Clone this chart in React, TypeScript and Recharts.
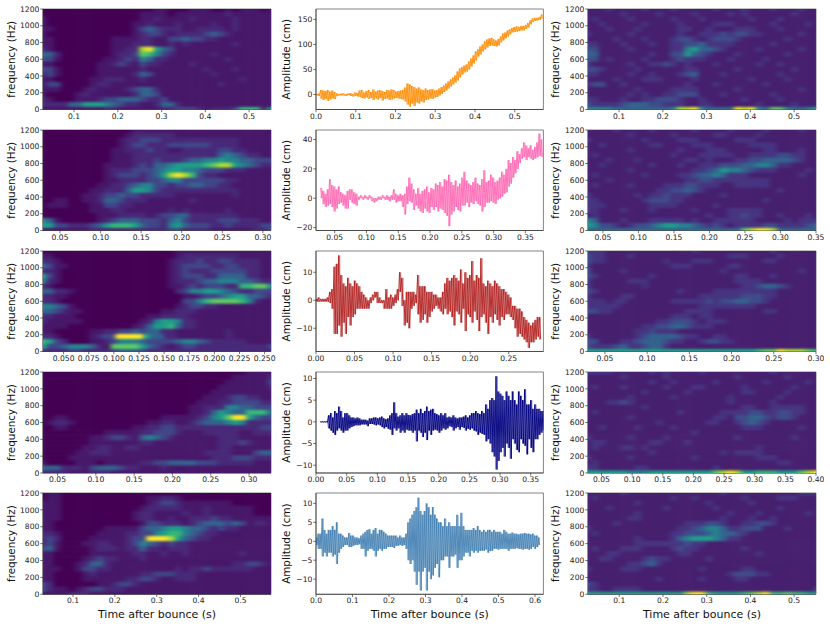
import React from 'react';
import { ScatterChart, Scatter, LineChart, Line, XAxis, YAxis, ReferenceArea } from 'recharts';

// viridis picked at uneven stops, low levels sit close together
const viridisLeft = ['#440154', '#47176a', '#482878', '#404688', '#33638d', '#26828e', '#1f9e89', '#35b779', '#5ec962', '#aadc32', '#fde725'];
const viridisRight = ['#450c5e', '#461f6f', '#463480', '#3f4c8a', '#33638d', '#26828e', '#1f9e89', '#35b779', '#5ec962', '#aadc32', '#fde725'];

const freqTicks = [0, 200, 400, 600, 800, 1000, 1200];

// spectrogram levels, top row is 1200 Hz, bottom row is 0 Hz, one digit per cell
const specLeft1 = [
  '000000000000000011000111001011101',
  '000000000000001111011111112111111',
  '100000000000001121111211111211111',
  '100000000000011211121111211211111',
  '110000000000013432221122221211111',
  '100000000000012332122223432111111',
  '110000000011112211334332211111111',
  '110000000011122211212111111211111',
  '210000000011229a64311111111111111',
  '442000000012238753211111211111111',
  '331000000112325422111111112111111',
  '110000001123213221111211111111111',
  '331000001111112111111112111211111',
  '231000001111124311111111211111111',
  '110000011222112111111111111121111',
  '133000012211111111111111121111111',
  '111000121111234421111111111111111',
  '100001211111124431111111111111111',
  '210001112334443223111111111111111',
  '222244666543221124421111111111111',
  '111111111221111112233321222377726',
];
const specLeft2 = [
  '000000000000011111111111111111111',
  '000000000000122222211111111111111',
  '000000000001223332222222222211111',
  '000000000001233222333333222211111',
  '000000000011222322112222233221111',
  '000000000011122222222222245432211',
  '000000000011122232223445565544333',
  '000000000111123244566667899654322',
  '000000000122233345665543332221111',
  '0000000001233323469a9732211111111',
  '000000000112222334553333332211111',
  '000000001122345533233443322111111',
  '000000011222466532222222222211111',
  '000000112334332222211111111211111',
  '001100112443222111111211111111111',
  '011100011332211111111111111111111',
  '000000011122111111212111112111111',
  '000000001112222123344222222211111',
  '541000001234443332453222233322211',
  '663322234677764332564333223222233',
  '111111122222222222332222111111223',
];
const specLeft3 = [
  '000000000000000000011111111111111',
  '110000000000000000012222222211111',
  '221000000000000000122232233222211',
  '431100000000000000123333223322211',
  '221000000000000000123222333332211',
  '631000000000000000123332244442211',
  '521000000000000000122234455544322',
  '210000000000000000112323332277885',
  '442210000000000000023556654322333',
  '221100000000000000001123345664432',
  '221000000000000000003357888875211',
  '554310000000000000012332211111111',
  '443211000000000001122211111111111',
  '221110000000000112222111111111111',
  '211111000000001256652211111111111',
  '111100000000012466742211111111111',
  '110000011223343442211111112111111',
  '22100001233aaaa6442211111112111111',
  '763200011235554333345543222221111',
  '633455542188886432123322222222223',
  '222233222234443222222222222222222',
];
const specLeft4 = [
  '000000000000000000000000000001111',
  '000000000000000000000000000111112',
  '000000000000000000000000001111113',
  '000000000000000000000000011111112',
  '000000000000000000000000111111111',
  '000000000000000000000001112332211',
  '000000000000000000000011122333322',
  '000000000000000000000112225544333',
  '000000000000000000000112465447774',
  '001100000000000001111123568aa6433',
  '012210000000000112211234445652222',
  '001100000000011223322222222222233',
  '000000000111112233321112222211222',
  '000000011233214543211111122211111',
  '000000011111112211111111122232111',
  '000000112211221111111111122111111',
  '000001122211111111111112222111344',
  '000011111111111111111111222333222',
  '100001110111112233444433322222111',
  '444222134443221112111111111111111',
  '222211122211111111111111111111111',
];
const specLeft5 = [
  '011000000000000000000000000000000',
  '011000000000000112210000000000000',
  '111000000000000123321111111000000',
  '111000000000001222221112111111000',
  '111000000000012211112112111111000',
  '111000000000012211211222322111111',
  '110000000000001332221234443431221',
  '110000000111113445665443232211111',
  '221000001111223356775432211111111',
  '232000011111233aaa964322111111111',
  '231000112211235432322111111111111',
  '341000012221224221222111111111111',
  '110000011111122112112111111121111',
  '110000123221112111111111111111111',
  '110001244211111111111111111223321',
  '111001332211111111121223222222111',
  '110000121111112233322211111111111',
  '110000111111223321122211111111111',
  '320000001123321111111111111111111',
  '321101233222111111111111111111111',
  '111122211111111111111111111111111',
];
const specRight1 = [
  '111211112111211111211121112111211',
  '111112111121111211112121111112111',
  '121111211111211121111112111211111',
  '112111112111121111222111112111121',
  '111211121111122112111222111211111',
  '211111211111121122232332211111211',
  '111121112111233212333211111121111',
  '221112111211223342222111112111111',
  '331111211111225644321111211111211',
  '441111111211336432111211111121111',
  '331211112111232221112111121111111',
  '211111211223212111211111211211111',
  '332111121111112211111211111112111',
  '221111211211123411121111111211111',
  '111121112221111211111112111121111',
  '233112111111112111211111121111111',
  '111111121111222211111211111111211',
  '111111212112233311121111112111111',
  '221112112233321121111121111211111',
  '322223444332221122111111211112111',
  '555544444444599a54444a9a5488544566'.slice(0, 33),
];
const specRight2 = [
  '111121111211111211112111121111211',
  '111111211111211111221111211111111',
  '211111112111122211111222111111111',
  '112111111221111222111112222111111',
  '111111211111121112221111122111211',
  '121111111111211122222112222332211',
  '111211121111112212111223344443211',
  '112111111211121122233344554221111',
  '111111211111111223465543222111121',
  '121111112111122344542221111111211',
  '111211111111112233222222221111111',
  '121111211112223322211222221111111',
  '111111111122334321111111111211111',
  '211111121223222111121111111111111',
  '221111112333221111111111121111111',
  '222111111222211111211111111111111',
  '221112111211111211112222211111111',
  '121111111111111112112232211211121',
  '541112111222221211222222111121222',
  '653321233456655432321222233222234',
  '444444444444444444444489aa9444444',
];
const specRight3 = [
  '222111111111111211111111112111111',
  '322111211111111111112221111211111',
  '322111111112111222111111122111111',
  '211111111111222111112211111111111',
  '311112111111111111121111111111211',
  '321111111211111111111221112111111',
  '211111222111111111111222211111111',
  '211111112111111111111122344321111',
  '321111111111121111222222222111111',
  '211112211111111122222233322111111',
  '222122111111222223233443321111111',
  '222221111111111122222222111111111',
  '332211111111112222111111122111111',
  '111111111111222122111111111111111',
  '111111111122333212221111111111111',
  '111111112233443222111111111111111',
  '111111122322211111111111111111111',
  '211111123444432211221111111111111',
  '331112234443221123322111111111111',
  '322234223442111111111111111111111',
  '666666666666666666666666788a99987',
];
const specRight4 = [
  '222211111212111121111111112111111',
  '111112111112111111111211111121111',
  '111111111211211111211111121111121',
  '121112111112111221111121111112111',
  '111111112111112111111122111121111',
  '111111211111211111112111111211111',
  '111223211111111111112111112111111',
  '111111112111111111111122112222211',
  '121111111111121111122223322332211',
  '111111211111111111221334432332111',
  '111111111121111112211234321111111',
  '112111121111211111111122211111211',
  '111111111111111211111111111111111',
  '211111211112111111111211111112111',
  '122111111221112111111111111111111',
  '121112212111111111111111211111111',
  '111111111211111111121222211111111',
  '211111211111111211111111222111111',
  '121111111111111111111111111221111',
  '221111122111111111211111111111111',
  '66666655566666666689a96677766689a',
];
const specRight5 = [
  '111112111111111111121111111111222',
  '121111111111211211111121111222111',
  '111111121111111112111112111111111',
  '111211111112111111211111111211111',
  '111111121111111111112111211111121',
  '111111221111111111121112112111111',
  '111121111111112223321122332111111',
  '211111111111122345542233311121111',
  '121111111111223334544321111111111',
  '111111121111245666542211111111111',
  '111111122222223221111111111111111',
  '121112221111232211111121111111111',
  '111221111111122111111111211111111',
  '112211112322111112111111111111111',
  '111111223421111111111111111111111',
  '211112221111111121111122111111111',
  '111111111111111111112333221111111',
  '111111111121111121111221111111111',
  '321111111111111111111111111111111',
  '221122221111111111111111111111112',
  '66666666666666 9aa76666789a77877666'.replace(' ', '').slice(0, 33),
];

const orangeHi = [1, 2, 9, 8, 7, 9, 6, 8, 5, 2, 1, 2, 2, 1, 2, 3, 1, 4, 3, 8, 9, 4, 7, 9, 5, 10, 6, 8, 9, 7, 5, 9, 8, 10, 9, 6, 7, 8, 9, 14, 22, 20, 17, 15, 12, 14, 10, 9, 12, 9, 10, 11, 8, 9, 12, 15, 18, 22, 26, 30, 34, 38, 46, 52, 55, 58, 60, 66, 72, 78, 86, 90, 96, 100, 106, 110, 112, 113, 110, 108, 111, 116, 122, 124, 128, 130, 133, 135, 136, 135, 137, 137, 139, 143, 148, 152, 153, 153, 155, 160];
const orangeLo = [-2, -3, -8, -11, -9, -13, -10, -8, -9, -3, -2, -2, -2, -3, -1, -3, -4, -3, -4, -5, -7, -8, -6, -9, -7, -11, -8, -10, -7, -12, -9, -8, -11, -10, -8, -7, -8, -9, -10, -14, -20, -24, -18, -23, -16, -18, -14, -16, -11, -10, -8, -9, -6, -5, -2, 1, 5, 8, 12, 16, 20, 24, 28, 34, 40, 44, 46, 50, 56, 62, 68, 76, 80, 86, 90, 94, 97, 98, 97, 96, 98, 104, 108, 112, 116, 120, 124, 125, 126, 127, 128, 128, 131, 134, 140, 145, 147, 148, 149, 152];

const pinkHi = [7, 5, 3, 6, 13, 9, 8, 6, 8, 4, 3, 2, 5, 6, 6, 4, 3, 1, 2, 1, 2, 1, 2, 1, 0, 0, 1, 1, 2, 1, 2, 1, 2, 6, 3, 2, 3, 2, 3, 8, 14, 10, 6, 3, 7, 3, 5, 6, 8, 4, 7, 6, 10, 9, 11, 8, 13, 12, 16, 11, 9, 12, 8, 10, 14, 18, 12, 10, 9, 11, 14, 10, 9, 13, 19, 11, 12, 16, 14, 11, 12, 14, 18, 16, 20, 26, 24, 28, 26, 32, 30, 34, 38, 36, 34, 36, 33, 35, 38, 44, 40];
const pinkLo = [0, -4, -6, -5, -4, -6, -9, -7, -4, -3, -5, -7, -7, -1, -3, -4, -5, -1, 0, -1, 0, -1, 0, -2, -3, -2, -1, -1, 0, -1, -1, -2, -1, -1, -3, -2, -2, -6, -11, -4, -2, -3, -8, -5, -7, -9, -10, -7, -9, -10, -6, -8, -6, -9, -7, -8, -10, -12, -19, -11, -9, -6, -8, -9, -5, -5, -3, -6, -3, -4, -2, -4, -5, -9, -6, -3, -3, -2, -3, -4, -1, 0, 1, 3, 4, 8, 10, 14, 17, 20, 24, 27, 28, 26, 28, 27, 26, 27, 28, 29, 28];

const redHi = [0.5, 1, 0.5, 0.5, 0.5, 1, 3, 4, 12, 13, 16, 9, 6, 5, 8, 6, 5, 7, 6, 5, 3, 2, 1, 0, 1, 2, 3, 3, 1, 0, 0, 4, 1, 2, 1, 2, 4, 10, 8, 0, 3, 3, 3, 3, 2, 9, 5, 5, 5, 3, 3, 3, 2, 2, 1, 1, 3, 6, 8, 7, 8, 9, 8, 7, 11, 6, 10, 8, 9, 14, 7, 9, 8, 15, 6, 5, 7, 6, 5, 7, 6, 5, 4, 4, 3, 2, 1, -2, -2, -3, -3, -4, -6, -7, -8, -9, -8, -7, -6, -6];
const redLo = [-0.5, -0.5, -0.5, -0.5, -0.5, -0.5, -1, -3, -12, -12, -9, -13, -8, -12, -6, -9, -6, -5, -3, -3, -3, -3, -3, -3, -1, 0, 1, -1, -1, -1, -3, -3, -3, -3, -2, -1, 0, 3, -2, -9, -8, -10, -3, -2, -1, -5, -8, -7, -5, -8, -6, -4, -3, -2, -3, -4, -5, -3, -5, -4, -6, -9, -4, -5, -8, -3, -11, -5, -6, -8, -4, -7, -11, -6, -5, -8, -12, -6, -8, -5, -7, -9, -6, -7, -5, -5, -6, -7, -10, -13, -12, -13, -14, -15, -17, -15, -15, -14, -13, -14];

const navyHi = [0.1, 0.1, 0.1, 0.1, 1.5, 2, 1, 2.5, 2, 3.5, 2.5, 1, 2, 2, 1.5, 1, 1, 0.8, 1, 0.8, 0.5, 0.5, 0.5, 0.3, 0.8, 0.8, 1, 1, 0.8, 1, 1.2, 0.8, 0.6, 0.8, 1.5, 2, 4.5, 2, 1.2, 1.5, 2, 1.5, 2, 1.6, 1.5, 1.8, 2, 2.8, 2, 3, 2, 2.5, 3.5, 2.5, 2.8, 3, 2, 1.8, 1.5, 2, 1.5, 2, 1, 1.2, 1, 1.5, 1, 0.8, 1, 1, 1.2, 1.5, 1, 1.5, 2, 2, 2.5, 2, 1.8, 2.5, 2, 4, 3, 5, 5.5, 5, 10.5, 7, 6.5, 6, 5, 7, 6, 5, 7, 5, 4, 7, 6, 5, 7.5, 4, 4, 5, 3, 4, 3, 3, 2.5, 2.5];
const navyLo = [-0.1, -0.1, -0.1, -0.1, -1.5, -2, -2.5, -3, -2, -1.5, -2, -2.5, -2, -2, -1.5, -1.2, -1, -0.8, -0.8, -0.8, -0.6, -0.6, -0.6, -1, -0.5, -0.5, -0.6, -0.8, -0.6, -0.8, -1.2, -1.5, -1.2, -1.6, -1.8, -3, -1.5, -2, -1.5, -2.5, -2, -2.5, -1.8, -2, -2, -2.5, -2, -4.5, -2, -2.5, -3.5, -2.5, -4.2, -2, -3, -2, -1.8, -2, -2.5, -2, -1.5, -1.8, -1.5, -1, -1.2, -2, -1.5, -1.2, -1.8, -1.2, -1.4, -2, -1.6, -1.8, -1.5, -2, -2.2, -3, -2.5, -2.8, -3, -4.5, -4, -5, -7, -8, -11, -9, -7, -6, -8, -5, -6, -8.5, -4, -5, -6.5, -7, -4, -5, -5.5, -7.5, -4, -6, -7, -4, -4, -3, -2.5, -2];

const steelHi = [1, 2, 2, 6, 3, 2, 3, 3, 4, 3, 5, 2, 2, 1.5, 1, 1, 2.2, 1.5, 1.5, 1, 1, 0.8, 1.5, 2, 2.5, 3, 3.2, 2, 3, 3.5, 2, 3, 3, 2.5, 2, 1.5, 1.5, 1.5, 1.5, 1.5, 1, 1.5, 1, 1, 2, 5, 6, 7, 8, 9, 11.5, 8, 7, 8, 10, 9, 7, 9, 7, 6, 5, 5, 4, 6, 4, 5, 4, 4, 4, 7, 4, 7.5, 4, 3, 3, 3, 3, 3.5, 3, 4, 3, 2.5, 3, 2.5, 3, 3, 2.5, 3, 2.5, 2.5, 2.5, 2, 3, 2.5, 2, 2, 2.3, 2, 2, 1.8, 2, 2, 2.2, 2, 2, 1.8, 2, 1.5, 1.5, 1];
const steelLo = [-1, -2, -2, -4, -3, -4, -3, -3, -4, -3.5, -6, -3, -2, -1.5, -1, -1, -1.5, -1.5, -1.2, -1, -1, -0.8, -2, -2, -4, -2.5, -2, -2, -2.5, -4, -2.5, -2, -2.5, -2, -2, -1.5, -1.5, -1.5, -1.8, -1.2, -1.2, -1, -1.2, -1, -2, -5, -6, -5, -8, -11.5, -8, -13, -8, -7, -13, -8, -10, -9, -7, -6, -9.5, -5, -5, -4, -4, -7, -4, -4, -3.5, -7, -5, -5, -4, -3, -3, -4, -2.5, -3, -2.5, -3, -2.5, -2.5, -2.5, -2.2, -3, -2.6, -2.5, -2, -2, -2.2, -2, -2, -2, -2, -2.5, -2, -2, -2, -1.8, -2, -2, -2.2, -2, -2, -2.2, -2, -1.5, -2, -1.5, -1];

const AXIS_W = 50;
const TOP_PAD = 4;
const BOTTOM_PAD = 30;
const RIGHT_PAD = 8;
const AXIS_COLOR = '#333';
const SPINE_COLOR = '#666';
const TICK_STYLE = { fontSize: 7.6, fill: '#222', fontFamily: 'DejaVu Sans' };
const LABEL_STYLE = { fontSize: 10.4, fill: '#111', fontFamily: 'DejaVu Sans', textAnchor: 'middle' as const };

const buildCells = (grid: string[], x0: number, x1: number) => {
  const cells: { t: number; f: number; level: number }[] = [];
  grid.forEach((row, r) => {
    for (let i = 0; i < row.length; i++) {
      cells.push({
        t: x0 + (i * (x1 - x0)) / (row.length - 1),
        f: 1200 - (r * 1200) / (grid.length - 1),
        level: parseInt(row[i], 36),
      });
    }
  });
  return cells;
};

// two crossed passes over the same envelope so the noisy band reads as solid
const buildTrace = (hi: number[], lo: number[], t0: number, t1: number) => {
  const out: { t: number; a: number; b: number }[] = [];
  const step = (t1 - t0) / (hi.length - 1);
  hi.forEach((h, i) => {
    out.push({ t: t0 + i * step, a: h, b: lo[i] });
    out.push({ t: t0 + (i + 0.5) * step, a: lo[i], b: h });
  });
  return out;
};

interface SpecProps {
  grid: string[];
  palette: string[];
  left: number;
  top: number;
  w: number;
  h: number;
  domain: [number, number];
  ticks: number[];
  digits: number;
  labelX: number;
  showTime?: boolean;
}

const SpecPanel: React.FC<SpecProps> = ({ grid, palette, left, top, w, h, domain, ticks, digits, labelX, showTime }) => {
  const cells = buildCells(grid, domain[0], domain[1]);
  const cw = w / (grid[0].length - 1);
  const ch = h / (grid.length - 1);
  const drawCell = (p: any) => (
    <rect x={p.cx - cw / 2} y={p.cy - ch / 2} width={cw + 0.6} height={ch + 0.6} fill={palette[p.payload.level]} />
  );
  return (
    <div style={{ position: 'absolute', left: left - AXIS_W, top: top - TOP_PAD }}>
      <ScatterChart width={w + AXIS_W + RIGHT_PAD} height={h + TOP_PAD + BOTTOM_PAD} margin={{ top: TOP_PAD, right: RIGHT_PAD, left: 0, bottom: 0 }}>
        <XAxis
          type="number"
          dataKey="t"
          domain={domain}
          ticks={ticks}
          interval={0}
          allowDataOverflow
          height={BOTTOM_PAD}
          tick={TICK_STYLE}
          tickSize={2.7}
          tickMargin={1}
          stroke={AXIS_COLOR}
          strokeWidth={0.7}
          tickFormatter={(v: number) => v.toFixed(digits)}
          label={showTime ? { value: 'Time after bounce (s)', position: 'insideBottom', offset: 6, style: { ...LABEL_STYLE, fontSize: 11 } } : undefined}
        />
        <YAxis
          type="number"
          dataKey="f"
          domain={[0, 1200]}
          ticks={freqTicks}
          interval={0}
          allowDataOverflow
          width={AXIS_W}
          tick={TICK_STYLE}
          tickSize={2.7}
          tickMargin={1}
          stroke={AXIS_COLOR}
          strokeWidth={0.7}
          label={{ value: 'frequency (Hz)', angle: -90, position: 'insideLeft', offset: labelX, style: LABEL_STYLE }}
        />
        <Scatter className="heat" data={cells} shape={drawCell} isAnimationActive={false} />
        <ReferenceArea x1={domain[0]} x2={domain[1]} y1={0} y2={1200} fill="none" stroke={SPINE_COLOR} strokeWidth={0.8} />
      </ScatterChart>
    </div>
  );
};

interface TraceProps {
  hi: number[];
  lo: number[];
  color: string;
  left: number;
  top: number;
  w: number;
  h: number;
  span: [number, number];
  domain: [number, number];
  ticks: number[];
  digits: number;
  yDomain: [number, number];
  yTicks: number[];
  labelX: number;
  showTime?: boolean;
}

const TracePanel: React.FC<TraceProps> = ({ hi, lo, color, left, top, w, h, span, domain, ticks, digits, yDomain, yTicks, labelX, showTime }) => (
  <div style={{ position: 'absolute', left: left - AXIS_W, top: top - TOP_PAD }}>
    <LineChart width={w + AXIS_W + RIGHT_PAD} height={h + TOP_PAD + BOTTOM_PAD} data={buildTrace(hi, lo, span[0], span[1])} margin={{ top: TOP_PAD, right: RIGHT_PAD, left: 0, bottom: 0 }}>
      <XAxis
        type="number"
        dataKey="t"
        domain={domain}
        ticks={ticks}
        interval={0}
        allowDataOverflow
        height={BOTTOM_PAD}
        tick={TICK_STYLE}
        tickSize={2.7}
        tickMargin={1}
        stroke={AXIS_COLOR}
        strokeWidth={0.7}
        tickFormatter={(v: number) => v.toFixed(digits)}
        label={showTime ? { value: 'Time after bounce (s)', position: 'insideBottom', offset: 6, style: { ...LABEL_STYLE, fontSize: 11 } } : undefined}
      />
      <YAxis
        type="number"
        domain={yDomain}
        ticks={yTicks}
        interval={0}
        allowDataOverflow
        width={AXIS_W}
        tick={TICK_STYLE}
        tickSize={2.7}
        tickMargin={1}
        stroke={AXIS_COLOR}
        strokeWidth={0.7}
        tickFormatter={(v: number) => (v < 0 ? `\u2212${-v}` : `${v}`)}
        label={{ value: 'Amplitude (cm)', angle: -90, position: 'insideLeft', offset: labelX, style: LABEL_STYLE }}
      />
      <Line type="linear" dataKey="a" stroke={color} strokeWidth={0.9} dot={false} isAnimationActive={false} />
      <Line type="linear" dataKey="b" stroke={color} strokeWidth={0.45} dot={false} isAnimationActive={false} />
      <ReferenceArea x1={domain[0]} x2={domain[1]} y1={yDomain[0]} y2={yDomain[1]} fill="none" stroke={SPINE_COLOR} strokeWidth={0.8} />
    </LineChart>
  </div>
);

const ROWS = [
  { top: 8.5, h: 100.5 },
  { top: 129.5, h: 100.5 },
  { top: 251, h: 100.5 },
  { top: 371.7, h: 101 },
  { top: 492.7, h: 101.3 },
];
const COL_L = { left: 43.3, w: 228, palette: viridisLeft };
const COL_M = { left: 316.3, w: 227.4 };
const COL_R = { left: 588.3, w: 228, palette: viridisRight };

const App: React.FC = () => (
  <div style={{ position: 'absolute', left: 0, top: 0, width: 830, height: 626, background: '#fff', overflow: 'hidden' }}>
    <svg width={0} height={0} style={{ position: 'absolute' }}>
      <filter id="soft" x="-5%" y="-5%" width="110%" height="110%" colorInterpolationFilters="sRGB">
        <feGaussianBlur stdDeviation="2.6 1.3" />
      </filter>
    </svg>
    <style>{'.recharts-scatter { filter: url(#soft); }'}</style>

    <SpecPanel grid={specLeft1} {...COL_L} {...ROWS[0]} domain={[0.029, 0.55]} ticks={[0.1, 0.2, 0.3, 0.4, 0.5]} digits={1} labelX={18} />
    <SpecPanel grid={specLeft2} {...COL_L} {...ROWS[1]} domain={[0.029, 0.31]} ticks={[0.05, 0.1, 0.15, 0.2, 0.25, 0.3]} digits={2} labelX={18} />
    <SpecPanel grid={specLeft3} {...COL_L} {...ROWS[2]} domain={[0.0295, 0.2563]} ticks={[0.05, 0.075, 0.1, 0.125, 0.15, 0.175, 0.2, 0.225, 0.25]} digits={3} labelX={18} />
    <SpecPanel grid={specLeft4} {...COL_L} {...ROWS[3]} domain={[0.031, 0.3287]} ticks={[0.05, 0.1, 0.15, 0.2, 0.25, 0.3]} digits={2} labelX={18} />
    <SpecPanel grid={specLeft5} {...COL_L} {...ROWS[4]} domain={[0.0283, 0.573]} ticks={[0.1, 0.2, 0.3, 0.4, 0.5]} digits={1} labelX={18} showTime />

    <TracePanel hi={orangeHi} lo={orangeLo} color="#ff8c00" {...COL_M} {...ROWS[0]} span={[0, 0.567]} domain={[0, 0.572]} ticks={[0, 0.1, 0.2, 0.3, 0.4, 0.5]} digits={1} yDomain={[-30, 170.8]} yTicks={[0, 50, 100, 150]} labelX={20.7} />
    <TracePanel hi={pinkHi} lo={pinkLo} color="#ff69b4" {...COL_M} {...ROWS[1]} span={[0.028, 0.375]} domain={[0.0206, 0.3783]} ticks={[0.05, 0.1, 0.15, 0.2, 0.25, 0.3, 0.35]} digits={2} yDomain={[-22, 46.5]} yTicks={[-20, 0, 20, 40]} labelX={20.7} />
    <TracePanel hi={redHi} lo={redLo} color="#b22222" {...COL_M} {...ROWS[2]} span={[0, 0.29]} domain={[0, 0.295]} ticks={[0, 0.05, 0.1, 0.15, 0.2, 0.25]} digits={2} yDomain={[-18.3, 17.6]} yTicks={[-10, 0, 10]} labelX={20.7} />
    <TracePanel hi={navyHi} lo={navyLo} color="#000080" {...COL_M} {...ROWS[3]} span={[0.007, 0.37]} domain={[0, 0.3707]} ticks={[0, 0.05, 0.1, 0.15, 0.2, 0.25, 0.3, 0.35]} digits={2} yDomain={[-11.8, 11.5]} yTicks={[-10, -5, 0, 5, 10]} labelX={20.7} />
    <TracePanel hi={steelHi} lo={steelLo} color="#4682b4" {...COL_M} {...ROWS[4]} span={[0, 0.61]} domain={[0, 0.623]} ticks={[0, 0.1, 0.2, 0.3, 0.4, 0.5, 0.6]} digits={1} yDomain={[-14, 12.75]} yTicks={[-10, -5, 0, 5, 10]} labelX={20.7} showTime />

    <SpecPanel grid={specRight1} {...COL_R} {...ROWS[0]} domain={[0.029, 0.55]} ticks={[0.1, 0.2, 0.3, 0.4, 0.5]} digits={1} labelX={17.7} />
    <SpecPanel grid={specRight2} {...COL_R} {...ROWS[1]} domain={[0.029, 0.35]} ticks={[0.05, 0.1, 0.15, 0.2, 0.25, 0.3, 0.35]} digits={2} labelX={17.7} />
    <SpecPanel grid={specRight3} {...COL_R} {...ROWS[2]} domain={[0.03, 0.3]} ticks={[0.05, 0.1, 0.15, 0.2, 0.25, 0.3]} digits={2} labelX={17.7} />
    <SpecPanel grid={specRight4} {...COL_R} {...ROWS[3]} domain={[0.028, 0.4]} ticks={[0.05, 0.1, 0.15, 0.2, 0.25, 0.3, 0.35, 0.4]} digits={2} labelX={17.7} />
    <SpecPanel grid={specRight5} {...COL_R} {...ROWS[4]} domain={[0.0285, 0.55]} ticks={[0.1, 0.2, 0.3, 0.4, 0.5]} digits={1} labelX={17.7} showTime />
  </div>
);

export default App;
